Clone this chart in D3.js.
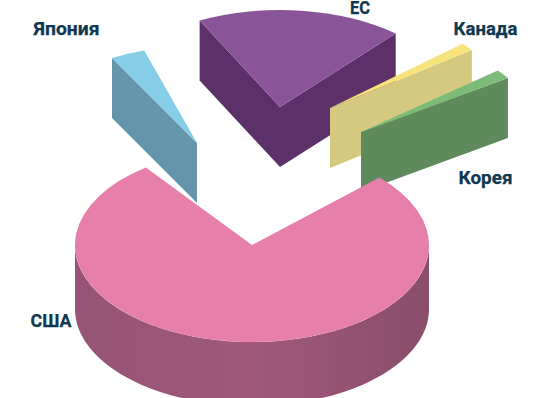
<!DOCTYPE html>
<html lang="ru">
<head>
<meta charset="utf-8">
<style>
  html, body { margin: 0; padding: 0; background: #fff; }
  svg { display: block; }
  text { font-family: "Liberation Sans Narrow", "Roboto", sans-serif; font-weight: 700; font-size: 18px; fill: #0f3850; stroke: #0f3850; stroke-width: 0.25px; }
</style>
<script src="https://cdn.jsdelivr.net/npm/d3@7"></script>
</head>
<body>
<svg id="chart" width="537" height="398"></svg>
<script>
// Shares of the pie, in percent
const categories = ["ЕС", "Канада", "Корея", "США", "Япония"];
const shares = [18.5, 1.3, 1.5, 75.6, 3.1];

// Slice placement: first edge (degrees clockwise from north) and how far it is pulled out
const startBearing = [-27, 48.5, 50.6, 46, -28.7];
const pullX = [28, 78, 109, 0, -55];
const pullY = [-138, -137, -113, 0, -102];
const wallDepth = [60, 60, 60, 64, 60];

// Face colours
const topColors = ["#8a5499", "#f6e37c", "#7dbb78", "#e67fa9", "#86cde8"];
const cutColors = ["#5c3169", "#d4c97f", "#5f8a5c", "#9a5578", "#6495aa"];

// Label text anchors
const labelX = [350, 453.5, 458.5, 30.5, 33.5];
const labelY = [14, 35, 184, 327, 35];
const labelWidth = [20, 64, 54, 41, 66];

const cx = 252, cy = 245, rx = 177, squash = 0.548;
const degPerPercent = d3.scaleLinear().domain([0, 100]).range([0, 366.6]);
const rad = d => d * Math.PI / 180;

const slices = categories.map((name, i) => {
  const a0 = rad(startBearing[i]);
  return {
    name, i,
    a0,
    a1: a0 + rad(degPerPercent(shares[i])),
    ox: cx + pullX[i],
    oy: cy + pullY[i],
    depth: wallDepth[i]
  };
});

const svg = d3.select("#chart");

// Soft banding across the outer wall of the large slice
const grad = svg.append("defs").append("linearGradient")
  .attr("id", "wall").attr("gradientUnits", "userSpaceOnUse")
  .attr("x1", 75).attr("x2", 430).attr("y1", 0).attr("y2", 0);
[[0, "#965476"], [0.5, "#a0597c"], [1, "#8a4d6b"]].forEach(([o, c]) =>
  grad.append("stop").attr("offset", o).attr("stop-color", c));

const arcGen = d3.arc().innerRadius(0).outerRadius(rx);
const line = d3.line();
const rim = (s, a) => [s.ox + rx * Math.sin(a), s.oy - rx * squash * Math.cos(a)];

// A flat wall hanging from the edge running from the slice apex out to angle a
function cutFace(s, a) {
  const [x, y] = rim(s, a);
  return line([[s.ox, s.oy], [x, y], [x, y + s.depth], [s.ox, s.oy + s.depth]]) + "Z";
}

// Curved outer wall between two bearings
function outerWall(s, from, to) {
  const steps = d3.range(0, 121).map(k => from + (to - from) * k / 120);
  const upper = steps.map(a => rim(s, a));
  const lower = steps.slice().reverse().map(a => {
    const [x, y] = rim(s, a);
    return [x, y + s.depth];
  });
  return line(upper.concat(lower)) + "Z";
}

// Painted back to front
const order = ["ЕС", "Канада", "Корея", "Япония", "США"];
const facesFor = {
  "ЕС": s => [s.a0, s.a1],
  "Канада": s => [s.a1],
  "Корея": s => [s.a1],
  "Япония": s => [s.a0],
  "США": () => []
};

const groups = svg.selectAll("g.slice")
  .data(order.map(n => slices.find(s => s.name === n)))
  .join("g").attr("class", "slice");

groups.each(function (s) {
  const g = d3.select(this);
  facesFor[s.name](s).forEach(a =>
    g.append("path").attr("d", cutFace(s, a)).attr("fill", cutColors[s.i]));
  if (s.name === "США") {
    g.append("path").attr("d", outerWall(s, rad(90), rad(270))).attr("fill", "url(#wall)");
  }
  g.append("path")
    .attr("d", arcGen({ startAngle: s.a0, endAngle: s.a1 }))
    .attr("transform", `translate(${s.ox},${s.oy}) scale(1,${squash})`)
    .attr("fill", topColors[s.i]);
});

svg.selectAll("text.label")
  .data(slices)
  .join("text")
  .attr("class", "label")
  .attr("x", s => labelX[s.i])
  .attr("y", s => labelY[s.i])
  .attr("textLength", s => labelWidth[s.i])
  .attr("lengthAdjust", "spacingAndGlyphs")
  .text(s => s.name);
</script>
</body>
</html>
